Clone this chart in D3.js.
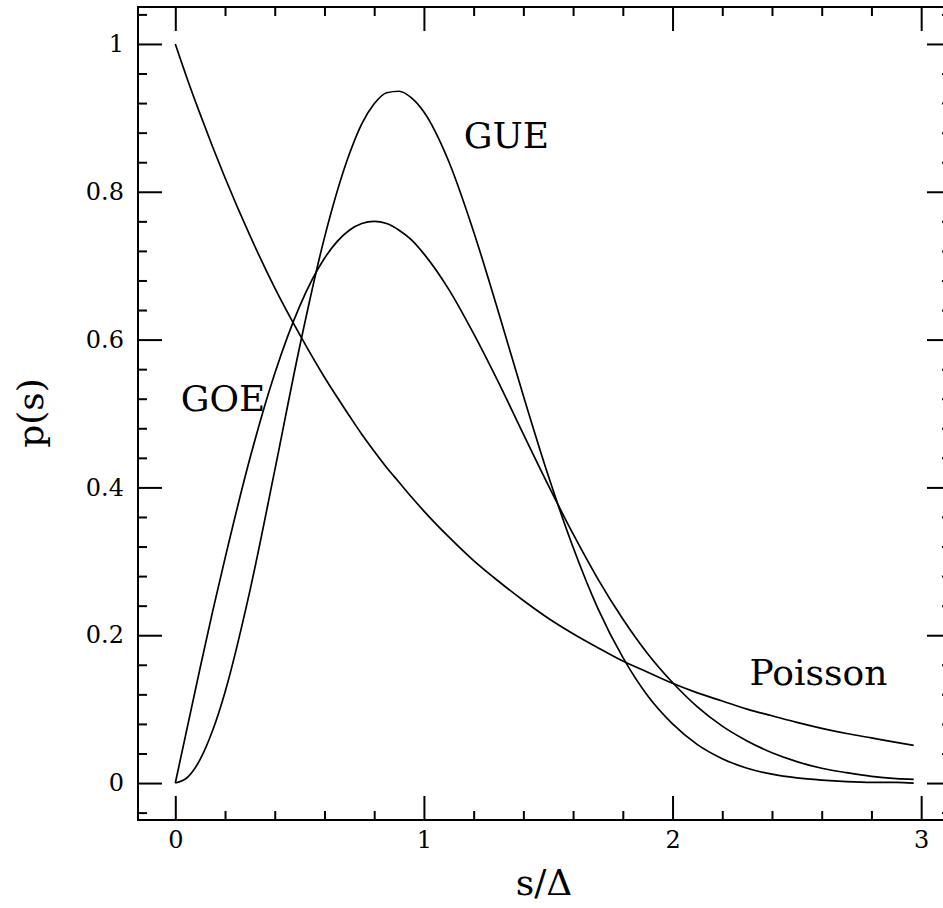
<!DOCTYPE html>
<html>
<head>
<meta charset="utf-8">
<script src="https://cdn.jsdelivr.net/npm/d3@7"></script>
<style>
  body { margin: 0; background: #fff; }
  svg { display: block; }
  .axis text { font-family: "DejaVu Serif", serif; font-size: 24px; fill: #000; }
  .axis line { stroke: #000; stroke-width: 2; }
</style>
</head>
<body>
<svg id="chart" width="943" height="908"></svg>
<script>
// valores (s/Δ e p(s))
const sValues = [0, 0.05, 0.1, 0.15, 0.2, 0.3, 0.4, 0.5, 0.6, 0.7, 0.75, 0.8, 0.85, 0.9, 0.95, 1.0,
  1.1, 1.2, 1.3, 1.4, 1.5, 1.6, 1.7, 1.8, 1.9, 2.0, 2.1, 2.2, 2.3, 2.4, 2.5, 2.6, 2.7, 2.8, 2.9, 2.97];

const poisson = [1, 0.951, 0.905, 0.861, 0.819, 0.741, 0.670, 0.607, 0.549, 0.497, 0.472, 0.449,
  0.427, 0.407, 0.387, 0.368, 0.333, 0.301, 0.273, 0.247, 0.223, 0.202, 0.183, 0.165, 0.150,
  0.135, 0.122, 0.111, 0.100, 0.091, 0.082, 0.074, 0.067, 0.061, 0.055, 0.051];

const goe = [0, 0.078, 0.156, 0.232, 0.304, 0.439, 0.554, 0.645, 0.710, 0.748, 0.757, 0.760,
  0.757, 0.748, 0.735, 0.716, 0.668, 0.608, 0.542, 0.472, 0.403, 0.337, 0.276, 0.222, 0.175,
  0.136, 0.103, 0.077, 0.057, 0.041, 0.029, 0.020, 0.014, 0.009, 0.006, 0.005];

const gue = [0, 0.008, 0.032, 0.071, 0.123, 0.260, 0.423, 0.590, 0.738, 0.851, 0.892, 0.919,
  0.934, 0.936, 0.927, 0.908, 0.841, 0.746, 0.637, 0.524, 0.416, 0.319, 0.236, 0.170, 0.118,
  0.080, 0.052, 0.033, 0.020, 0.012, 0.007, 0.004, 0.002, 0.001, 0.001, 0.000];

// rótulos das curvas: [texto, s, p]
const curveLabels = [
  ["GUE", 1.16, 0.859],
  ["GOE", 0.022, 0.503],
  ["Poisson", 2.31, 0.133]
];

const xMajor = [0, 1, 2, 3];
const yMajor = [0, 0.2, 0.4, 0.6, 0.8, 1];

const svg = d3.select('#chart');

// moldura do gráfico
const mLeft = 138, mRight = 951, mTop = 7, mBottom = 820;

const x = d3.scaleLinear().domain([-0.15, 3.12]).range([mLeft, mRight]);
const y = d3.scaleLinear().domain([-0.05, 1.05]).range([mBottom, mTop]);

const xMinor = d3.range(0, 3.01, 0.2).filter(v => Math.abs(v - Math.round(v)) > 1e-6);
const yMinor = d3.range(-0.04, 1.05, 0.04).filter(v => Math.abs(v * 5 - Math.round(v * 5)) > 1e-6);

// Eixos: maiores com rótulo, menores sem
function addAxis(axisFn, scale, ticks, size, transform, withLabels, padding) {
  const ax = axisFn(scale).tickValues(ticks).tickSizeInner(-size).tickSizeOuter(0).tickPadding(padding || 0);
  ax.tickFormat(withLabels ? d3.format('') : () => '');
  const g = svg.append('g').attr('class', 'axis').attr('transform', transform).call(ax);
  g.select('.domain').remove();
  return g;
}

addAxis(d3.axisBottom, x, xMajor, 24, `translate(0,${mBottom})`, true, 11);
addAxis(d3.axisBottom, x, xMinor, 9, `translate(0,${mBottom})`, false);
addAxis(d3.axisTop, x, xMajor, 24, `translate(0,${mTop})`, false);
addAxis(d3.axisTop, x, xMinor, 9, `translate(0,${mTop})`, false);
addAxis(d3.axisLeft, y, yMajor, 24, `translate(${mLeft},0)`, true, 14);
addAxis(d3.axisLeft, y, yMinor, 9, `translate(${mLeft},0)`, false);
addAxis(d3.axisRight, y, yMajor, 24, `translate(${mRight},0)`, false);
addAxis(d3.axisRight, y, yMinor, 9, `translate(${mRight},0)`, false);

svg.append('rect')
  .attr('x', mLeft).attr('y', mTop)
  .attr('width', mRight - mLeft).attr('height', mBottom - mTop)
  .attr('fill', 'none').attr('stroke', '#000').attr('stroke-width', 2);

// Curvas
const line = d3.line()
  .x(d => x(d[0]))
  .y(d => y(d[1]))
  .curve(d3.curveMonotoneX);

[poisson, goe, gue].forEach(series => {
  svg.append('path')
    .datum(sValues.map((s, i) => [s, series[i]]))
    .attr('fill', 'none')
    .attr('stroke', '#000')
    .attr('stroke-width', 1.7)
    .attr('d', line);
});

// Rótulos das curvas
svg.selectAll('text.curve-label')
  .data(curveLabels)
  .enter()
  .append('text')
  .attr('class', 'curve-label')
  .attr('x', d => x(d[1]))
  .attr('y', d => y(d[2]))
  .attr('font-family', '"DejaVu Serif", serif')
  .attr('font-size', 36)
  .text(d => d[0]);

// Títulos dos eixos
svg.append('text')
  .attr('x', 544)
  .attr('y', 895)
  .attr('text-anchor', 'middle')
  .attr('font-family', '"DejaVu Serif", serif')
  .attr('font-size', 36)
  .text('s/Δ');

svg.append('text')
  .attr('transform', `translate(43,413) rotate(-90)`)
  .attr('text-anchor', 'middle')
  .attr('font-family', '"DejaVu Serif", serif')
  .attr('font-size', 36)
  .text('p(s)');
</script>
</body>
</html>
